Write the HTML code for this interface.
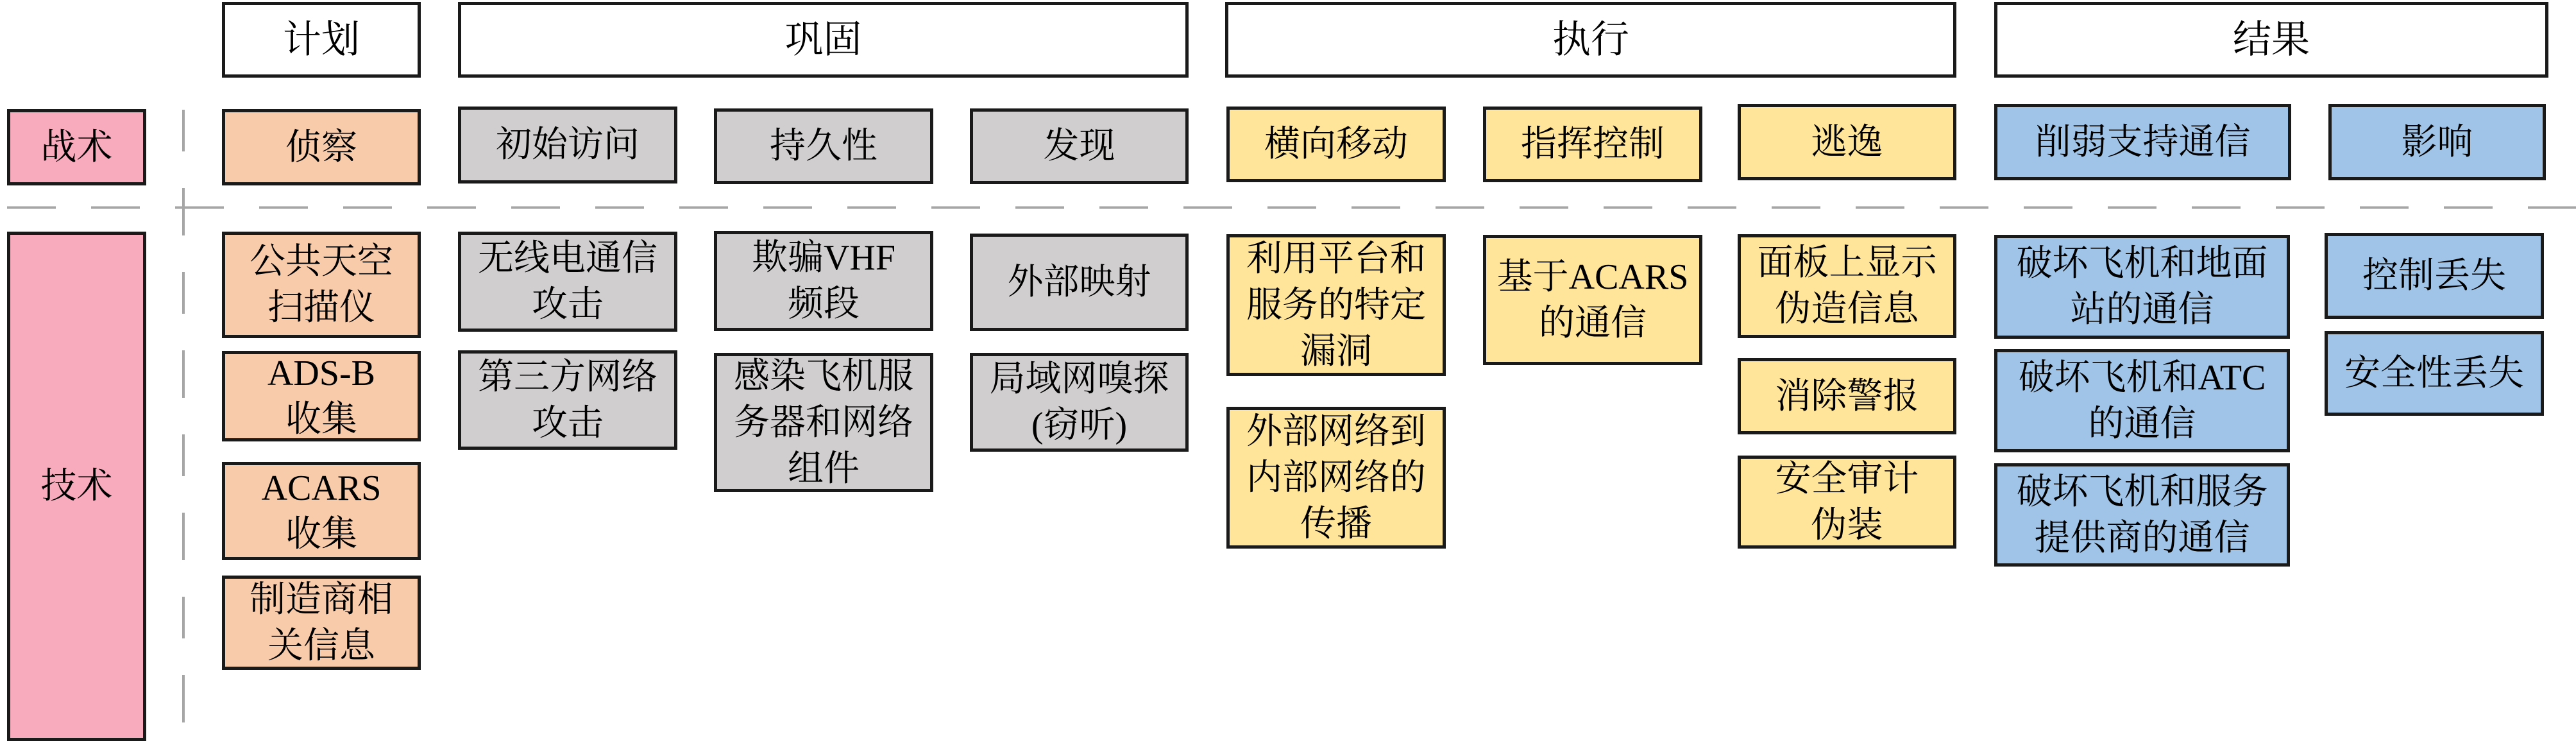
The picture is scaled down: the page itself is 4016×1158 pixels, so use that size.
<!DOCTYPE html>
<html><head><meta charset="utf-8"><style>
html,body{margin:0;padding:0;background:#fff;}
body{width:4016px;height:1158px;position:relative;overflow:hidden;font-family:"Liberation Serif","Noto Serif CJK SC",serif;color:#000;}
.b{position:absolute;box-sizing:border-box;border:5px solid #1a1a1a;display:flex;align-items:center;justify-content:center;text-align:center;font-size:56px;line-height:72px;}
.h{background:#fff;font-size:60px;}
.p{background:#f9abbe;}
.o{background:#f8cbaa;}
.g{background:#d0cece;}
.y{background:#fee59a;}
.u{background:#9fc4e7;}
svg{position:absolute;left:0;top:0;}
</style></head><body>
<svg width="4016" height="1158">
<line x1="11" y1="323.5" x2="4016" y2="323.5" stroke="#a6a6a6" stroke-width="4" stroke-dasharray="76 55"/>
<line x1="286" y1="171" x2="286" y2="1158" stroke="#a6a6a6" stroke-width="4" stroke-dasharray="65 57 74 57" stroke-dashoffset="0"/>
</svg>
<div class="b h" style="left:346px;top:3px;width:310px;height:118px;">计划</div>
<div class="b h" style="left:714px;top:3px;width:1139px;height:118px;">巩固</div>
<div class="b h" style="left:1910px;top:3px;width:1140px;height:118px;">执行</div>
<div class="b h" style="left:3109px;top:3px;width:864px;height:118px;">结果</div>

<div class="b p" style="left:11px;top:170px;width:217px;height:119px;">战术</div>
<div class="b o" style="left:346px;top:170px;width:310px;height:119px;">侦察</div>
<div class="b g" style="left:714px;top:166px;width:342px;height:120px;">初始访问</div>
<div class="b g" style="left:1113px;top:169px;width:342px;height:118px;">持久性</div>
<div class="b g" style="left:1512px;top:169px;width:341px;height:118px;">发现</div>
<div class="b y" style="left:1912px;top:166px;width:342px;height:118px;">横向移动</div>
<div class="b y" style="left:2312px;top:166px;width:342px;height:118px;">指挥控制</div>
<div class="b y" style="left:2709px;top:162px;width:341px;height:119px;">逃逸</div>
<div class="b u" style="left:3109px;top:162px;width:463px;height:119px;">削弱支持通信</div>
<div class="b u" style="left:3630px;top:162px;width:339px;height:119px;">影响</div>

<div class="b p" style="left:11px;top:361px;width:217px;height:794px;">技术</div>
<div class="b o" style="left:346px;top:361px;width:310px;height:166px;">公共天空<br>扫描仪</div>
<div class="b o" style="left:346px;top:547px;width:310px;height:141px;">ADS-B<br>收集</div>
<div class="b o" style="left:346px;top:720px;width:310px;height:153px;">ACARS<br>收集</div>
<div class="b o" style="left:346px;top:897px;width:310px;height:147px;">制造商相<br>关信息</div>

<div class="b g" style="left:714px;top:361px;width:342px;height:156px;">无线电通信<br>攻击</div>
<div class="b g" style="left:714px;top:546px;width:342px;height:155px;">第三方网络<br>攻击</div>
<div class="b g" style="left:1113px;top:360px;width:342px;height:156px;">欺骗VHF<br>频段</div>
<div class="b g" style="left:1113px;top:550px;width:342px;height:217px;">感染飞机服<br>务器和网络<br>组件</div>
<div class="b g" style="left:1512px;top:364px;width:341px;height:152px;">外部映射</div>
<div class="b g" style="left:1512px;top:550px;width:341px;height:154px;">局域网嗅探<br>(窃听)</div>

<div class="b y" style="left:1912px;top:365px;width:342px;height:221px;">利用平台和<br>服务的特定<br>漏洞</div>
<div class="b y" style="left:1912px;top:634px;width:342px;height:221px;">外部网络到<br>内部网络的<br>传播</div>
<div class="b y" style="left:2312px;top:366px;width:342px;height:203px;">基于ACARS<br>的通信</div>
<div class="b y" style="left:2709px;top:365px;width:341px;height:162px;">面板上显示<br>伪造信息</div>
<div class="b y" style="left:2709px;top:558px;width:341px;height:119px;">消除警报</div>
<div class="b y" style="left:2709px;top:710px;width:341px;height:145px;">安全审计<br>伪装</div>

<div class="b u" style="left:3109px;top:366px;width:461px;height:162px;">破坏飞机和地面<br>站的通信</div>
<div class="b u" style="left:3109px;top:544px;width:461px;height:161px;">破坏飞机和ATC<br>的通信</div>
<div class="b u" style="left:3109px;top:722px;width:461px;height:161px;">破坏飞机和服务<br>提供商的通信</div>
<div class="b u" style="left:3624px;top:363px;width:342px;height:134px;">控制丢失</div>
<div class="b u" style="left:3624px;top:516px;width:342px;height:132px;">安全性丢失</div>
</body></html>
